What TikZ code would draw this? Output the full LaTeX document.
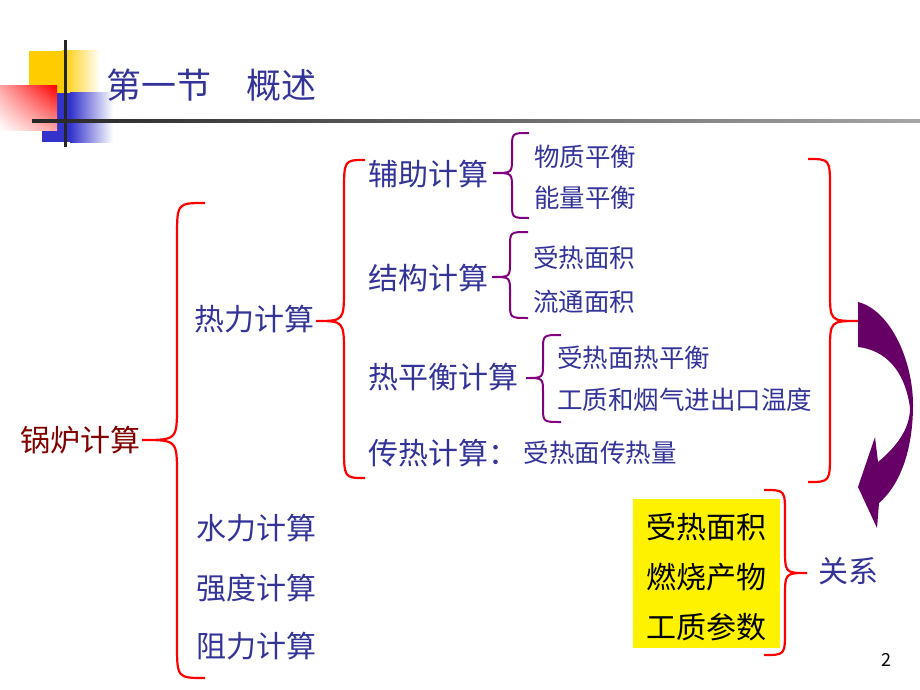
\documentclass[tikz,border=0pt]{standalone}
\usepackage{fontspec}
\newfontfamily\cjk{Noto Sans CJK SC}
\usetikzlibrary{positioning,shadings}
\definecolor{titleblue}{RGB}{51,51,153}
\definecolor{darkred}{RGB}{128,0,0}
\definecolor{bracered}{RGB}{255,0,0}
\definecolor{bracepurple}{RGB}{128,0,128}
\definecolor{arrowpurple}{RGB}{102,0,102}
\definecolor{logoyellow}{RGB}{255,204,0}
\definecolor{logoblue}{RGB}{51,51,204}
\tikzset{
  bigtext/.style={font=\cjk\fontsize{30}{36}\selectfont, text=titleblue, anchor=west, inner sep=0pt},
  smalltext/.style={font=\cjk\fontsize{25.5}{30}\selectfont, text=titleblue, anchor=west, inner sep=0pt},
  redbrace/.style={draw=bracered, line width=2.2pt},
  purplebrace/.style={draw=bracepurple, line width=2pt}
}
\newcommand{\kuohao}[8]{%
  \draw[#1] (#2,#5) .. controls (#3,#5) .. (#3,{#5+#8}) -- (#3,{#6-#8})
    .. controls (#3,#6) .. (#4,#6) .. controls (#3,#6) .. (#3,{#6+#8})
    -- (#3,{#7-#8}) .. controls (#3,#7) .. (#2,#7);}
\begin{document}
\begin{tikzpicture}[x=1pt,y=-1pt]
    \useasboundingbox (0,0) rectangle (920,690);
    \fill[logoyellow] (29,51) rectangle (62,93);
    \shade[left color=logoyellow, right color=white] (62,51) rectangle (100,93);
    \fill[logoblue] (42,93) rectangle (70,142);
    \shade[left color=logoblue, right color=white] (70,93) rectangle (113,142);
    \shade[upper right=red, lower left=white, upper left=red!35, lower right=red!35] (0,86) rectangle (57,130);
    \fill[black!85] (63.5,40) rectangle (66.5,147);
    \shade[left color=black!85, right color=black!35] (32,119.5) rectangle (920,122.5);
    \node[font=\cjk\fontsize{35}{40}\selectfont, text=titleblue, anchor=west, inner sep=0pt] (title) at (106,85) {第一节　概述};

    \node[bigtext, text=darkred] (guolu) at (20,440) {锅炉计算};
    \node[bigtext] (reli) at (194,319) {热力计算};
    \node[bigtext] (shuili) at (196,528) {水力计算};
    \node[bigtext] (qiangdu) at (196,588) {强度计算};
    \node[bigtext] (zuli) at (196,646) {阻力计算};

    \node[bigtext] (fuzhu) at (368,174) {辅助计算};
    \node[smalltext] (wuzhi) at (534,157) {物质平衡};
    \node[smalltext] (nengliang) at (534,198) {能量平衡};
    \node[bigtext] (jiegou) at (368,278) {结构计算};
    \node[smalltext] (mianji) at (533,258) {受热面积};
    \node[smalltext] (liutong) at (533,302) {流通面积};
    \node[bigtext] (rephb) at (368,377) {热平衡计算};
    \node[smalltext] (mianphb) at (557,358) {受热面热平衡};
    \node[smalltext] (wendu) at (557,400) {工质和烟气进出口温度};
    \node[bigtext] (chuanre) at (368,453) {传热计算：};
    \node[smalltext, right=5pt of chuanre] (chuanreliang) {受热面传热量};

    \node[fill=yellow, minimum width=147pt, minimum height=149pt, inner sep=0pt] (canshu) at (706.5,573.5) {};
    \node[align=center, inner sep=0pt, font=\cjk\fontsize{30}{50}\selectfont] (canshutext) at (706.5,577.5) {受热面积\\燃烧产物\\工质参数};
    \node[bigtext] (guanxi) at (818,571) {关系};
    \node[font=\cjk\fontsize{18}{20}\selectfont, inner sep=0pt] (yema) at (886,660) {2};

    \kuohao{redbrace}{205}{177}{142}{203}{440}{678}{35}
    \kuohao{redbrace}{365}{344}{316}{160}{321}{478}{33}
    \kuohao{purplebrace}{529}{512}{493}{133}{173}{218}{15}
    \kuohao{purplebrace}{528}{510}{492}{232}{277}{318}{15}
    \kuohao{purplebrace}{561}{543}{526}{335}{378}{422}{15}
    \kuohao{redbrace}{808}{830}{858}{159}{321}{482}{30}
    \kuohao{redbrace}{764}{785}{807}{490}{573}{655}{25}

    \fill[arrowpurple] (858,302) .. controls (890,310) and (913,360) .. (913,405) .. controls (913,450) and (900,485) .. (879,503) -- (877,528) -- (858,487) -- (875,437) -- (878,462) .. controls (895,448) and (910,430) .. (910,408) .. controls (905,370) and (885,350) .. (858,347) -- cycle;
\end{tikzpicture}
\end{document}
